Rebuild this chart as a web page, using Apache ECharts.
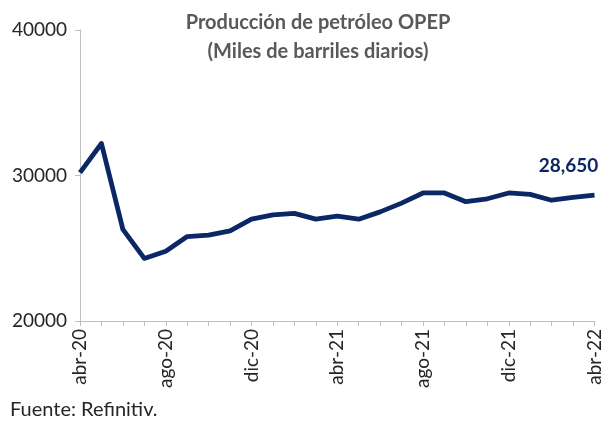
<!DOCTYPE html>
<html>
<head>
<meta charset="utf-8">
<script src="https://cdn.jsdelivr.net/npm/echarts@6/dist/echarts.min.js"></script>
<style>
  html, body { margin: 0; padding: 0; background: #fff; }
  #chart { width: 604px; height: 427px; }
</style>
</head>
<body>
<div id="chart"></div>
<script>
// meses abr-20 .. abr-22
const months = [
  "abr-20", "may-20", "jun-20", "jul-20", "ago-20", "sep-20", "oct-20", "nov-20",
  "dic-20", "ene-21", "feb-21", "mar-21", "abr-21", "may-21", "jun-21", "jul-21",
  "ago-21", "sep-21", "oct-21", "nov-21", "dic-21", "ene-22", "feb-22", "mar-22", "abr-22",
];
// miles de barriles diarios
const production = [
  30200, 32200, 26300, 24300, 24800, 25800, 25900, 26200,
  27000, 27300, 27400, 27000, 27200, 27000, 27500, 28100,
  28800, 28800, 28200, 28400, 28800, 28700, 28300, 28500, 28650,
];
const yTicks = [20000, 30000, 40000];

const font = "Lato, 'Open Sans', sans-serif";
const navy = "#0b2765";
const axisGray = "#bfbfbf";

const lastIdx = production.length - 1;
const seriesData = production.map((v, i) => {
  if (i !== lastIdx) return v;
  return {
    value: v,
    label: {
      show: true,
      position: "top",
      offset: [-26, -15],
      formatter: (p) => p.value.toLocaleString("en-US"),
      color: navy,
      fontWeight: "bold",
      fontSize: 19,
      fontFamily: font,
    },
  };
});

const chart = echarts.init(document.getElementById("chart"), null, { renderer: "canvas" });
chart.setOption({
  animation: false,
  backgroundColor: "#fff",
  title: {
    text: "Producción de petróleo OPEP\n(Miles de barriles diarios)",
    left: 313,
    top: 3,
    textAlign: "center",
    textStyle: {
      color: "#595959",
      fontFamily: font,
      fontWeight: "bold",
      fontSize: 20,
      lineHeight: 29,
    },
  },
  grid: { left: 80, right: 7, top: 30, bottom: 106 },
  xAxis: {
    type: "category",
    data: months,
    boundaryGap: false,
    axisLine: { lineStyle: { color: axisGray, width: 1 } },
    axisTick: { interval: 0, length: 5, lineStyle: { color: axisGray } },
    axisLabel: {
      interval: 3,
      rotate: 90,
      margin: 8,
      color: "#262626",
      fontFamily: font,
      fontSize: 19,
    },
    splitLine: { show: false },
  },
  yAxis: {
    type: "value",
    min: yTicks[0],
    max: yTicks[yTicks.length - 1],
    interval: yTicks[1] - yTicks[0],
    axisLine: { show: true, lineStyle: { color: axisGray, width: 1 } },
    axisTick: { show: true, length: 5, lineStyle: { color: axisGray } },
    axisLabel: {
      margin: 13,
      color: "#262626",
      fontFamily: font,
      fontSize: 19,
      formatter: (v) => String(v),
    },
    splitLine: { show: false },
  },
  series: [
    {
      type: "line",
      data: seriesData,
      symbol: "circle",
      symbolSize: 0,
      showSymbol: true,
      lineStyle: { color: navy, width: 4.8, join: "round" },
      itemStyle: { color: navy },
    },
  ],
  graphic: [
    {
      type: "text",
      left: 10,
      top: 400,
      style: {
        text: "Fuente: Refinitiv.",
        fill: "#262626",
        font: "20px " + font,
      },
    },
  ],
});
</script>
</body>
</html>
